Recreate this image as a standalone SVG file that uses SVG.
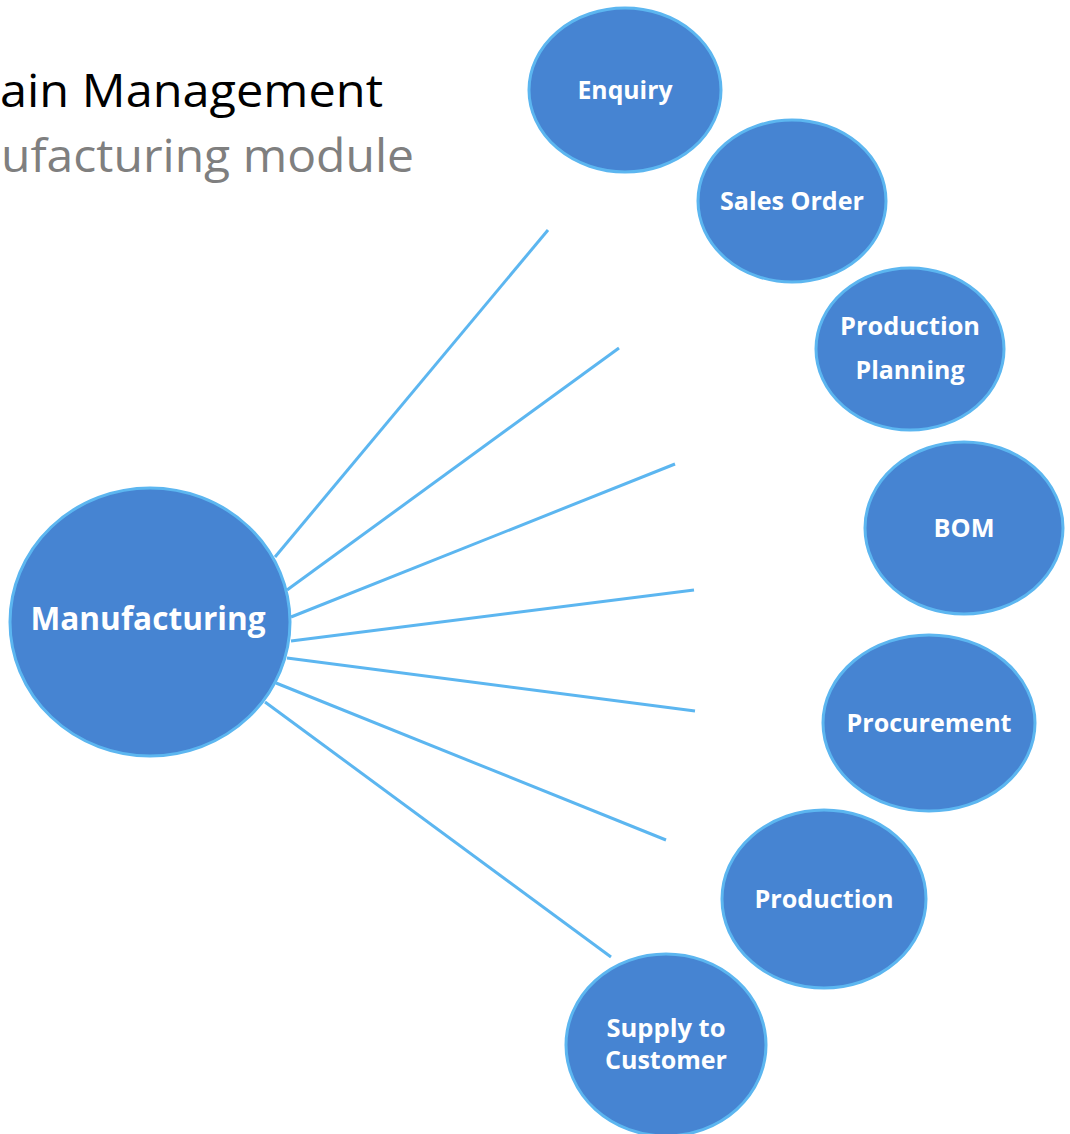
<svg xmlns="http://www.w3.org/2000/svg" width="1070" height="1134" viewBox="0 0 1070 1134">
<style>
.node{fill:#4684d2;stroke:#5cb6f0;stroke-width:3}
.lbl{font-family:"Open Sans","Noto Sans",sans-serif;font-weight:bold;fill:#ffffff;text-anchor:middle}
.con{stroke:#5cb6f0;stroke-width:3;fill:none}
.title{font-family:"Open Sans","Noto Sans",sans-serif;font-size:46px}
</style>
<rect width="1070" height="1134" fill="#ffffff"/>
<text class="title" x="0" y="107" fill="#000000" textLength="383" lengthAdjust="spacingAndGlyphs">ain Management</text>
<text class="title" x="1" y="172" fill="#7f7f7f" textLength="413" lengthAdjust="spacingAndGlyphs">ufacturing module</text>
<g id="connectors">
<line class="con" x1="275" y1="557" x2="548" y2="230"/>
<line class="con" x1="287" y1="590" x2="619" y2="348"/>
<line class="con" x1="291" y1="617" x2="675" y2="464"/>
<line class="con" x1="291" y1="641" x2="694" y2="590"/>
<line class="con" x1="287" y1="658" x2="695" y2="711"/>
<line class="con" x1="276" y1="683" x2="666" y2="840"/>
<line class="con" x1="265" y1="702" x2="611" y2="957"/>
</g>
<g id="manufacturing">
<ellipse class="node" cx="150" cy="622" rx="140" ry="134"/>
<text class="lbl" x="148" y="630" font-size="32" textLength="235" lengthAdjust="spacingAndGlyphs">Manufacturing</text>
</g>
<g id="enquiry">
<ellipse class="node" cx="625" cy="90" rx="96" ry="82"/>
<text class="lbl" x="625" y="99" font-size="25" textLength="95" lengthAdjust="spacingAndGlyphs">Enquiry</text>
</g>
<g id="sales-order">
<ellipse class="node" cx="792" cy="201" rx="94" ry="81"/>
<text class="lbl" x="792" y="210" font-size="25" textLength="144" lengthAdjust="spacingAndGlyphs">Sales Order</text>
</g>
<g id="production-planning">
<ellipse class="node" cx="910" cy="349" rx="94" ry="81"/>
<text class="lbl" x="910" y="335" font-size="25" textLength="140" lengthAdjust="spacingAndGlyphs">Production</text>
<text class="lbl" x="910" y="379" font-size="25" textLength="109" lengthAdjust="spacingAndGlyphs">Planning</text>
</g>
<g id="bom">
<ellipse class="node" cx="964" cy="528" rx="99" ry="86"/>
<text class="lbl" x="964" y="537" font-size="25" textLength="61" lengthAdjust="spacingAndGlyphs">BOM</text>
</g>
<g id="procurement">
<ellipse class="node" cx="929" cy="723" rx="106" ry="88"/>
<text class="lbl" x="929" y="732" font-size="25" textLength="165" lengthAdjust="spacingAndGlyphs">Procurement</text>
</g>
<g id="production">
<ellipse class="node" cx="824" cy="899" rx="102" ry="89"/>
<text class="lbl" x="824" y="908" font-size="25" textLength="139" lengthAdjust="spacingAndGlyphs">Production</text>
</g>
<g id="supply-to-customer">
<ellipse class="node" cx="666" cy="1045" rx="100" ry="91"/>
<text class="lbl" x="666" y="1037" font-size="25" textLength="119" lengthAdjust="spacingAndGlyphs">Supply to</text>
<text class="lbl" x="666" y="1069" font-size="25" textLength="122" lengthAdjust="spacingAndGlyphs">Customer</text>
</g>
</svg>
